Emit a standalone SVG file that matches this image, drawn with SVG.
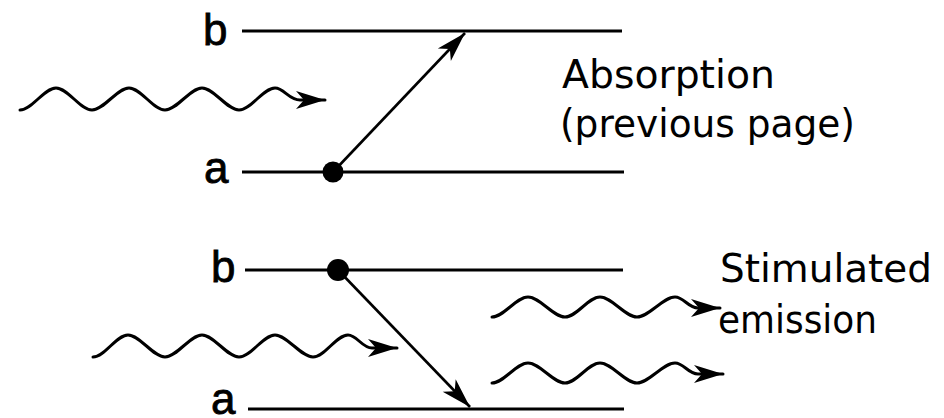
<svg xmlns="http://www.w3.org/2000/svg" width="944" height="418" viewBox="0 0 944 418">
<style>
.lvl{stroke:#000;stroke-width:3;fill:none}
.arr{stroke:#000;stroke-width:2.6;fill:none}
.wave{stroke:#000;stroke-width:3;fill:none;stroke-linecap:round;stroke-linejoin:round}
.dot{fill:#000}
.lab{font-family:"Liberation Sans",Arial,sans-serif;font-size:44px;fill:#000;stroke:#000;stroke-width:0.8}
.txt{font-family:"DejaVu Sans","Noto Sans",sans-serif;font-size:39px;fill:#000}
</style>
<defs>
<marker id="head" viewBox="-32 -10 34 20" refX="0" refY="0" markerWidth="34" markerHeight="20" markerUnits="userSpaceOnUse" orient="auto">
<path d="M0,0 L-30,-9 L-22,0 L-30,9 Z" fill="#000"/>
</marker>
<marker id="whead" viewBox="-32 -10 34 20" refX="0" refY="0" markerWidth="34" markerHeight="20" markerUnits="userSpaceOnUse" orient="0">
<path d="M0,0 L-29,-9 L-21,0 L-29,9 Z" fill="#000"/>
</marker>
</defs>

<g id="top-level-b">
<text class="lab" x="203" y="45">b</text>
<line class="lvl" x1="242" y1="31" x2="622" y2="31"/>
</g>
<g id="top-level-a">
<text class="lab" x="204" y="183">a</text>
<line class="lvl" x1="242" y1="172" x2="624" y2="172"/>
<circle class="dot" cx="333" cy="172" r="10.5"/>
</g>
<g id="absorption-label">
<text class="txt" x="562" y="88" textLength="213" lengthAdjust="spacingAndGlyphs">Absorption</text>
<text class="txt" x="560" y="137" textLength="295" lengthAdjust="spacingAndGlyphs">(previous page)</text>
</g>

<g id="bottom-level-b">
<text class="lab" x="211" y="282">b</text>
<line class="lvl" x1="245" y1="270" x2="623" y2="270"/>
<circle class="dot" cx="338" cy="270" r="11"/>
</g>
<g id="bottom-level-a">
<text class="lab" x="211" y="414">a</text>
<line class="lvl" x1="248" y1="409" x2="624" y2="409"/>
</g>
<g id="emission-label">
<text class="txt" x="720" y="282" textLength="212" lengthAdjust="spacingAndGlyphs">Stimulated</text>
<text class="txt" x="718" y="333" textLength="159" lengthAdjust="spacingAndGlyphs">emission</text>
</g>

<g id="connectors">
<line class="arr" x1="333" y1="172" x2="465" y2="33" marker-end="url(#head)"/>
<line class="arr" x1="338" y1="270" x2="470" y2="407" marker-end="url(#head)"/>
<path class="wave" marker-end="url(#whead)" d="M20,110 C32,110 44,88 56,88 S80,110 92,110 S117,88 129,88 S153,110 165,110 S190,88 202,88 S227,110 239,110 S263,88 275,88 C284,88 289,100 300,100 L325,100"/>
<path class="wave" marker-end="url(#whead)" d="M93,357 C105,357 116,335 128,335 S153,357 165,357 S190,335 202,335 S227,357 239,357 S263,335 275,335 S301,357 313,357 S336,335 348,335 C357,335 362,348 372,348 L397,348"/>
<path class="wave" marker-end="url(#whead)" d="M492,317 C504,317 516,297 528,297 S553,317 565,317 S588,297 600,297 S625,317 637,317 S663,297 675,297 C684,297 688,308 698,308 L720,308"/>
<path class="wave" marker-end="url(#whead)" d="M492,383 C504,383 516,363 528,363 S553,383 565,383 S588,363 600,363 S625,383 637,383 S663,363 675,363 C684,363 688,374 698,374 L723,374"/>
</g>
</svg>
